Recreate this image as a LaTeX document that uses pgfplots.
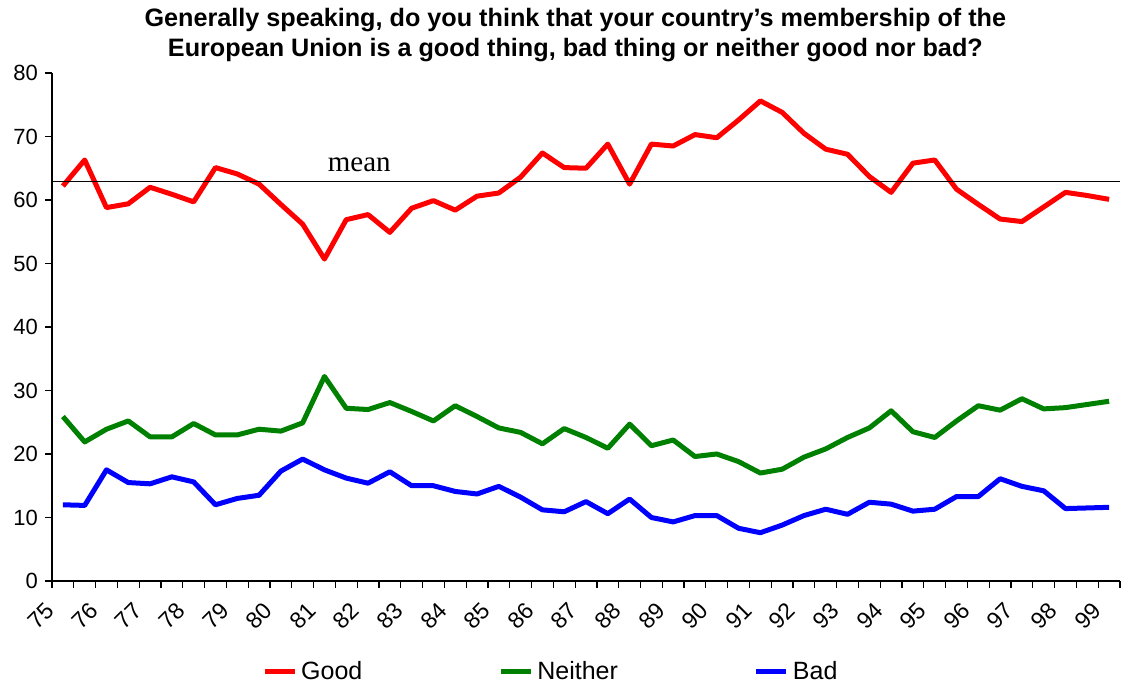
\documentclass[border=0pt]{standalone}
\usepackage{fontspec}
\setmainfont{Liberation Sans}
\newfontfamily\serif{Liberation Serif}
\usepackage{pgfplots}
\usepackage{pgfplotstable}
\pgfplotsset{compat=1.18}

\definecolor{cgood}{RGB}{255,0,0}
\definecolor{cneither}{RGB}{0,128,0}
\definecolor{cbad}{RGB}{0,0,255}

% x = half-year index, 0 = 1975
\pgfplotstableread{
x good neither bad
0 62.2 25.9 12.0
1 66.3 21.9 11.9
2 58.8 23.9 17.5
3 59.4 25.2 15.5
4 62.0 22.7 15.3
5 60.9 22.7 16.4
6 59.7 24.8 15.6
7 65.1 23.0 12.0
8 64.1 23.0 13.0
9 62.5 23.9 13.5
10 59.3 23.6 17.3
11 56.2 24.9 19.2
12 50.7 32.2 17.5
13 56.9 27.2 16.2
14 57.7 27.0 15.4
15 54.9 28.1 17.2
16 58.7 26.7 15.0
17 59.9 25.2 15.0
18 58.4 27.6 14.1
19 60.6 25.9 13.7
20 61.1 24.1 14.9
21 63.6 23.4 13.2
22 67.4 21.6 11.2
23 65.1 24.0 10.9
24 65.0 22.6 12.5
25 68.8 20.9 10.6
26 62.5 24.7 12.9
27 68.8 21.3 10.0
28 68.5 22.2 9.3
29 70.3 19.6 10.3
30 69.8 20.0 10.3
31 72.6 18.8 8.3
32 75.6 17.0 7.6
33 73.8 17.6 8.8
34 70.5 19.5 10.3
35 68.0 20.8 11.3
36 67.2 22.6 10.5
37 63.7 24.1 12.4
38 61.2 26.8 12.1
39 65.8 23.5 11.0
40 66.3 22.6 11.3
41 61.7 25.2 13.3
42 59.3 27.6 13.3
43 57.0 26.9 16.1
44 56.6 28.7 14.9
45 58.9 27.1 14.2
46 61.2 27.3 11.4
47 60.7 27.8 11.5
48 60.1 28.3 11.6
}\eu

\begin{document}
\begin{tikzpicture}
\begin{axis}[
  scale only axis,
  width=534pt, height=254pt,
  xmin=-0.5, xmax=48.5,
  ymin=0, ymax=80,
  axis lines*=left,
  axis line style={black, line width=0.7pt},
  tick align=outside,
  major tick length=3.5pt,
  minor tick length=3.5pt,
  tick style={black, line width=0.6pt},
  xtick={-0.5,1.5,...,47.5},
  xticklabels={75,76,77,78,79,80,81,82,83,84,85,86,87,88,89,90,91,92,93,94,95,96,97,98,99},
  minor xtick={0.5,2.5,...,48.5},
  ytick={0,10,...,80},
  xticklabel style={rotate=45, anchor=east, font=\fontsize{11.5}{12}\selectfont, inner sep=1pt},
  xticklabel shift=8.5pt,
  yticklabel style={font=\fontsize{11}{12}\selectfont},
  /pgf/number format/assume math mode=true,
  title={Generally speaking, do you think that your country’s membership of the\\European Union is a good thing, bad thing or neither good nor bad?},
  title style={at={(axis description cs:0.49,1)}, anchor=south, align=center,
    font=\bfseries\fontsize{12.6}{15}\selectfont, inner sep=0pt, yshift=-0.5pt},
  legend columns=3,
  legend style={draw=none, at={(axis description cs:0.468,-0.179)}, anchor=center,
    font=\fontsize{12.5}{14}\selectfont,
    /tikz/every even column/.append style={column sep=66pt}},
  legend image code/.code={\draw[#1] (0pt,0pt) -- (15pt,0pt);},
]
\addplot[cgood, line width=2.5pt, line join=round] table[x=x, y=good] {\eu};
\addlegendentry{Good}
\addplot[cneither, line width=2.5pt, line join=round] table[x=x, y=neither] {\eu};
\addlegendentry{Neither}
\addplot[cbad, line width=2.5pt, line join=round] table[x=x, y=bad] {\eu};
\addlegendentry{Bad}
\addplot[black, line width=0.9pt, forget plot] coordinates {(-0.5,62.9) (48.5,62.9)};
\node[anchor=base, font=\serif\fontsize{14.5}{16}\selectfont, inner sep=0pt, yshift=5pt] at (axis cs:13.6,62.9) {mean};
\end{axis}
\pgfresetboundingbox
\path[use as bounding box] ([shift={(-26pt,-54pt)}]current axis.south west) rectangle ([shift={(1pt,36.5pt)}]current axis.north east);
\end{tikzpicture}
\end{document}
